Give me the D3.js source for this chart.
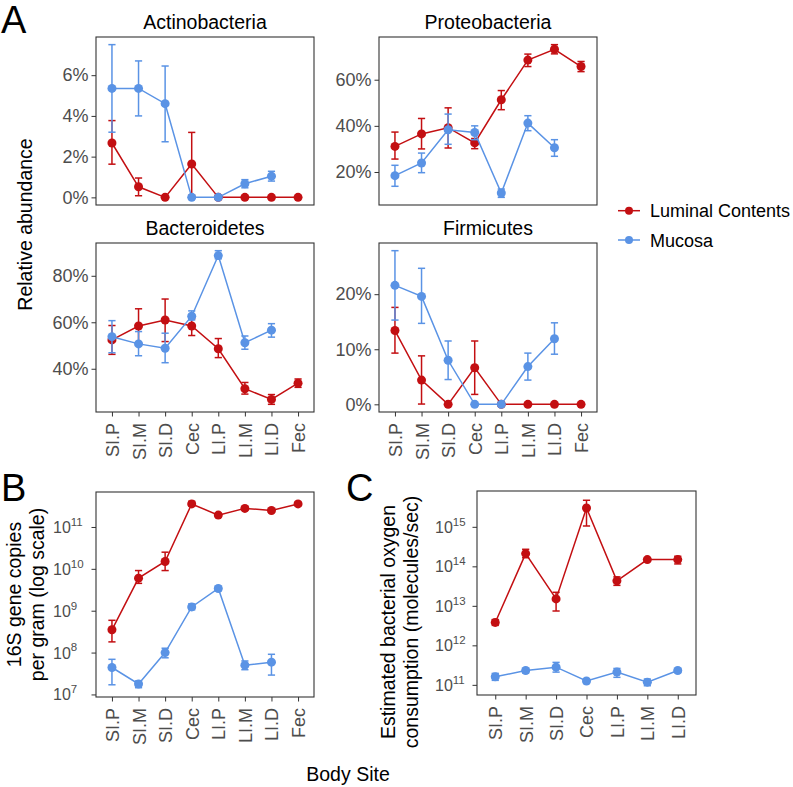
<!DOCTYPE html>
<html><head><meta charset="utf-8">
<script src="https://cdn.jsdelivr.net/npm/d3@7"></script>
<style>
body{margin:0;background:#fff;}
svg{font-family:"Liberation Sans",Arial,Helvetica,sans-serif;}
</style></head>
<body><svg id="c" width="793" height="787"></svg>
<script>
// ---------- data ----------
const sites = ["SI.P","SI.M","SI.D","Cec","LI.P","LI.M","LI.D","Fec"];
const sitesC = ["SI.P","SI.M","SI.D","Cec","LI.P","LI.M","LI.D"];
const seriesNames = ["Luminal Contents","Mucosa"];

// Panel A (relative abundance, %)
const actinoLum   = [2.67, 0.52, 0, 1.64, 0, 0, 0, 0];
const actinoLumLo = [1.63, 0.08, 0, 0.10, 0, 0, 0, 0];
const actinoLumHi = [3.77, 0.95, 0, 3.19, 0, 0, 0, 0];
const actinoMuc   = [5.35, 5.35, 4.60, 0, 0, 0.67, 1.04, null];
const actinoMucLo = [3.20, 4.00, 2.73, 0, 0, 0.47, 0.80, null];
const actinoMucHi = [7.50, 6.70, 6.45, 0, 0, 0.87, 1.28, null];

const proteoLum   = [31.1, 36.5, 39.2, 32.6, 51.3, 68.5, 73.2, 65.7];
const proteoLumLo = [25.6, 30.0, 30.4, 30.1, 47.0, 65.7, 71.2, 63.5];
const proteoLumHi = [37.3, 43.2, 47.8, 34.5, 55.3, 71.1, 75.2, 67.9];
const proteoMuc   = [18.4, 23.9, 38.3, 37.1, 10.9, 41.2, 30.5, null];
const proteoMucLo = [13.8, 19.7, 32.0, 34.0, 9.0, 37.9, 26.8, null];
const proteoMucHi = [22.9, 28.2, 45.1, 40.0, 12.6, 44.4, 34.0, null];

const bacteroLum   = [52.4, 58.4, 61.0, 58.4, 48.6, 31.4, 26.8, 33.8];
const bacteroLumLo = [46.2, 51.0, 51.7, 54.3, 44.8, 29.1, 24.7, 32.0];
const bacteroLumHi = [58.6, 65.8, 70.0, 61.5, 53.0, 34.1, 28.9, 35.6];
const bacteroMuc   = [53.8, 50.7, 48.8, 62.6, 88.7, 51.2, 56.6, null];
const bacteroMucLo = [46.9, 45.6, 42.6, 61.0, 87.3, 48.4, 53.6, null];
const bacteroMucHi = [60.7, 56.0, 55.3, 64.9, 90.8, 54.1, 59.4, null];

const firmLum   = [13.4, 4.4, 0, 6.65, 0, 0, 0, 0];
const firmLumLo = [9.3, 0.05, 0, 1.8, 0, 0, 0, 0];
const firmLumHi = [17.6, 8.8, 0, 11.5, 0, 0, 0, 0];
const firmMuc   = [21.6, 19.6, 8.0, 0, 0, 6.85, 11.9, null];
const firmMucLo = [15.3, 14.7, 4.5, 0, 0, 4.4, 9.1, null];
const firmMucHi = [27.9, 24.7, 11.5, 0, 0, 9.3, 14.8, null];

const actinoTicks = [0, 2, 4, 6];
const proteoTicks = [20, 40, 60];
const bacteroTicks = [40, 60, 80];
const firmTicks = [0, 10, 20];

// Panel B (16S gene copies per gram)
const copiesLum   = [3.5e8, 6e9, 1.5e10, 3.55e11, 1.92e11, 2.78e11, 2.48e11, 3.55e11];
const copiesLumLo = [1.8e8, 4.5e9, 9.1e9, 3.2e11, 1.75e11, 2.55e11, 2.25e11, 3.25e11];
const copiesLumHi = [5.9e8, 9.1e9, 2.5e10, 4.1e11, 2.1e11, 3.0e11, 2.7e11, 3.9e11];
const copiesMuc   = [4.4e7, 1.78e7, 1e8, 1.23e9, 3.4e9, 5e7, 5.9e7, null];
const copiesMucLo = [1.7e7, 1.45e7, 7.5e7, 1.05e9, 3.0e9, 3.9e7, 2.9e7, null];
const copiesMucHi = [6.9e7, 2.1e7, 1.27e8, 1.45e9, 3.8e9, 6.3e7, 9.1e7, null];
const copiesTicks = [7, 8, 9, 10, 11];

// Panel C (oxygen consumption, molecules/sec)
const o2Lum   = [3.8e12, 2.1e14, 1.5e13, 3.0e15, 4.3e13, 1.48e14, 1.48e14];
const o2LumLo = [3.2e12, 1.65e14, 7.4e12, 1.05e15, 3.3e13, 1.35e14, 1.15e14];
const o2LumHi = [4.5e12, 2.7e14, 2.2e13, 4.7e15, 5.4e13, 1.6e14, 1.8e14];
const o2Muc   = [1.6e11, 2.3e11, 2.8e11, 1.25e11, 2.1e11, 1.17e11, 2.3e11];
const o2MucLo = [1.3e11, 2.0e11, 2.1e11, 1.12e11, 1.55e11, 0.95e11, 2.05e11];
const o2MucHi = [1.95e11, 2.6e11, 3.7e11, 1.38e11, 2.6e11, 1.4e11, 2.55e11];
const o2Ticks = [11, 12, 13, 14, 15];

// ---------- styles ----------
const RED = "#C30F12", BLUE = "#5A93E5";
const TICKCOL = "#4D4D4D";
const FS_TICK = 18, FS_TITLE = 19.5, FS_AXT = 19.5;

const svg = d3.select("#c");

function mk(vals, lo, hi, cats){ return cats.map((c,i)=>({c, v:vals[i], lo:lo[i], hi:hi[i]})); }

function expandLin(arrs){
  const all = arrs.flat().filter(v=>v!=null);
  const [a,b] = d3.extent(all); const e=(b-a)*0.05; return [a-e,b+e];
}
function expandLog(arrs){
  const all = arrs.flat().filter(v=>v!=null).map(Math.log10);
  const [a,b] = d3.extent(all); const e=(b-a)*0.05; return [Math.pow(10,a-e),Math.pow(10,b+e)];
}

function panel(o){
  const g = svg.append("g");
  const x = d3.scalePoint().domain(o.cats).range([o.x0,o.x1]).padding(0.6);
  const y = o.y;
  // y axis
  const ya = g.append("g").attr("transform",`translate(${o.x0},0)`)
    .call(d3.axisLeft(y).tickValues(o.yTicks).tickSize(4.5).tickPadding(3).tickFormat(o.yFmt||(d=>d+"%")));
  ya.select(".domain").remove();
  ya.selectAll("line").attr("stroke","#333").attr("stroke-width",1);
  ya.selectAll("text").attr("fill",TICKCOL).attr("font-size",FS_TICK).attr("font-family",null);
  if(o.logLabels){
    ya.selectAll("text").each(function(d){
      const t=d3.select(this); t.text(null).attr("text-anchor","start").attr("x",o.logX - o.x0).attr("dy","0.34em").attr("font-size",16);
      t.append("tspan").text("10");
      t.append("tspan").attr("dy","-0.62em").attr("font-size",11.5).text(String(d3.format("d")(Math.round(Math.log10(d)))));
    });
  }
  // x axis
  if(o.xAxis){
    const xa = g.append("g").attr("transform",`translate(0,${o.y1})`)
      .call(d3.axisBottom(x).tickSize(4.5).tickPadding(5));
    xa.select(".domain").remove();
    xa.selectAll("line").attr("stroke","#333").attr("stroke-width",1);
    xa.selectAll("text").attr("fill",TICKCOL).attr("font-size",FS_TICK).attr("font-family",null)
      .attr("transform","rotate(-90)").attr("text-anchor","end")
      .attr("x",-11).attr("y",0).attr("dy","0.36em");
  }
  // box
  g.append("rect").attr("x",o.x0).attr("y",o.y0).attr("width",o.x1-o.x0).attr("height",o.y1-o.y0)
    .attr("fill","none").attr("stroke","#333").attr("stroke-width",1.1);
  // title
  if(o.title) g.append("text").attr("x",(o.x0+o.x1)/2).attr("y",o.y0-8).attr("text-anchor","middle")
    .attr("font-size",FS_TITLE).attr("fill","#000").text(o.title);
  // series
  o.series.forEach(s=>{
    const d = s.data.filter(p=>p.v!=null);
    const sg = g.append("g");
    sg.append("path").datum(d).attr("fill","none").attr("stroke",s.col).attr("stroke-width",1.5)
      .attr("d",d3.line().x(p=>x(p.c)).y(p=>y(p.v)));
    const eb = sg.selectAll(".eb").data(d).join("g");
    eb.append("line").attr("x1",p=>x(p.c)).attr("x2",p=>x(p.c)).attr("y1",p=>y(p.lo)).attr("y2",p=>y(p.hi))
      .attr("stroke",s.col).attr("stroke-width",1.5);
    eb.append("line").attr("x1",p=>x(p.c)-3.6).attr("x2",p=>x(p.c)+3.6).attr("y1",p=>y(p.lo)).attr("y2",p=>y(p.lo))
      .attr("stroke",s.col).attr("stroke-width",1.5);
    eb.append("line").attr("x1",p=>x(p.c)-3.6).attr("x2",p=>x(p.c)+3.6).attr("y1",p=>y(p.hi)).attr("y2",p=>y(p.hi))
      .attr("stroke",s.col).attr("stroke-width",1.5);
    sg.selectAll("circle").data(d).join("circle").attr("cx",p=>x(p.c)).attr("cy",p=>y(p.v)).attr("r",4.5)
      .attr("fill",s.col);
  });
}

function linPanel(title,x0,x1,y0,y1,lum,lumLo,lumHi,muc,mucLo,mucHi,ticks,xAxis){
  const y = d3.scaleLinear().domain(expandLin([lumLo,lumHi,mucLo,mucHi])).range([y1,y0]);
  panel({title,x0,x1,y0,y1,y,cats:sites,yTicks:ticks,xAxis,
    series:[{col:RED,data:mk(lum,lumLo,lumHi,sites)},{col:BLUE,data:mk(muc,mucLo,mucHi,sites)}]});
}

linPanel("Actinobacteria",96,314,37,205,actinoLum,actinoLumLo,actinoLumHi,actinoMuc,actinoMucLo,actinoMucHi,actinoTicks,false);
linPanel("Proteobacteria",379,597,37,205,proteoLum,proteoLumLo,proteoLumHi,proteoMuc,proteoMucLo,proteoMucHi,proteoTicks,false);
linPanel("Bacteroidetes",96,314,243,412,bacteroLum,bacteroLumLo,bacteroLumHi,bacteroMuc,bacteroMucLo,bacteroMucHi,bacteroTicks,true);
linPanel("Firmicutes",379,597,243,412,firmLum,firmLumLo,firmLumHi,firmMuc,firmMucLo,firmMucHi,firmTicks,true);

// Panel B
{
  const y = d3.scaleLog().domain(expandLog([copiesLumLo,copiesLumHi,copiesMucLo,copiesMucHi])).range([697,492]);
  panel({x0:96,x1:314,y0:492,y1:697,y,cats:sites,yTicks:copiesTicks.map(e=>Math.pow(10,e)),xAxis:true,
    logLabels:true,logX:53,
    series:[{col:RED,data:mk(copiesLum,copiesLumLo,copiesLumHi,sites)},{col:BLUE,data:mk(copiesMuc,copiesMucLo,copiesMucHi,sites)}]});
}
// Panel C
{
  const y = d3.scaleLog().domain(expandLog([o2LumLo,o2LumHi,o2MucLo,o2MucHi])).range([695,491]);
  panel({x0:477,x1:696,y0:491,y1:695,y,cats:sitesC,yTicks:o2Ticks.map(e=>Math.pow(10,e)),xAxis:true,
    logLabels:true,logX:435,
    series:[{col:RED,data:mk(o2Lum,o2LumLo,o2LumHi,sitesC)},{col:BLUE,data:mk(o2Muc,o2MucLo,o2MucHi,sitesC)}]});
}

// axis titles
svg.append("text").attr("transform","translate(32,224.5) rotate(-90)").attr("text-anchor","middle")
  .attr("font-size",FS_AXT).text("Relative abundance");
svg.append("text").attr("transform","translate(21,594.5) rotate(-90)").attr("text-anchor","middle")
  .attr("font-size",FS_AXT).text("16S gene copies");
svg.append("text").attr("transform","translate(44,594.5) rotate(-90)").attr("text-anchor","middle")
  .attr("font-size",FS_AXT).text("per gram (log scale)");
svg.append("text").attr("transform","translate(395,622) rotate(-90)").attr("text-anchor","middle")
  .attr("font-size",FS_AXT).text("Estimated bacterial oxygen");
svg.append("text").attr("transform","translate(418,622) rotate(-90)").attr("text-anchor","middle")
  .attr("font-size",FS_AXT).text("consumption (molecules/sec)");
svg.append("text").attr("x",348).attr("y",781).attr("text-anchor","middle").attr("font-size",FS_AXT).text("Body Site");

// panel letters
[["A",1,33],["B",1,501],["C",346,501]].forEach(([t,x,y])=>
  svg.append("text").attr("x",x).attr("y",y).attr("font-size",38).attr("fill","#000").text(t));

// legend
const leg = svg.append("g");
seriesNames.forEach((n,i)=>{
  const cy = 210.7 + i*29.3, col = i===0?RED:BLUE;
  leg.append("line").attr("x1",618).attr("x2",640).attr("y1",cy).attr("y2",cy).attr("stroke",col).attr("stroke-width",1.5);
  leg.append("circle").attr("cx",629).attr("cy",cy).attr("r",4).attr("fill",col);
  leg.append("text").attr("x",650).attr("y",cy+6.5).attr("font-size",18).text(n);
});
</script></body></html>
